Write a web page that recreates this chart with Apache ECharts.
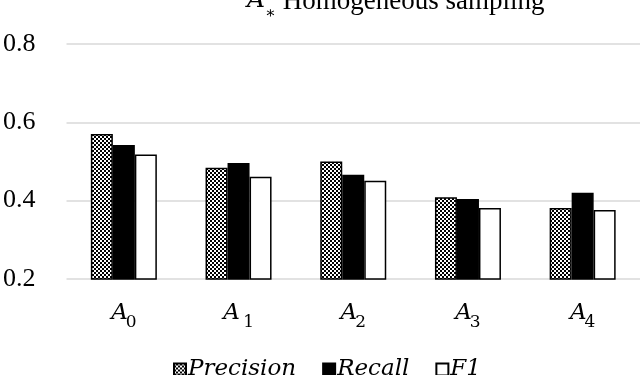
<!DOCTYPE html>
<html>
<head>
<meta charset="utf-8">
<script src="https://cdn.jsdelivr.net/npm/echarts@6/dist/echarts.min.js"></script>
<style>
html,body{margin:0;padding:0;background:#fff;}
#c{width:640px;height:375px;}
</style>
</head>
<body>
<div id="c"></div>
<script>
// Data
var categories = ['A0', 'A 1', 'A2', 'A3', 'A4'];
var seriesNames = ['Precision', 'Recall', 'F1'];
var precision = [0.570, 0.484, 0.500, 0.409, 0.381];
var recall = [0.542, 0.496, 0.466, 0.404, 0.420];
var f1 = [0.518, 0.461, 0.451, 0.381, 0.376];
var yMin = 0.2, yMax = 0.8, yStep = 0.2;

// checkerboard pattern
var pc = document.createElement('canvas');
pc.width = 4; pc.height = 4;
var pctx = pc.getContext('2d');
pctx.fillStyle = '#000'; pctx.fillRect(0, 0, 4, 4);
pctx.fillStyle = '#fff'; pctx.fillRect(0, 0, 2, 2); pctx.fillRect(2, 2, 2, 2);
var checker = { image: pc, repeat: 'repeat' };

var mathFont = '"DejaVu Serif", serif';
var textFont = '"Liberation Serif", "Times New Roman", serif';

var chart = echarts.init(document.getElementById('c'), null, { renderer: 'canvas' });
var barStyle = function (color) {
  return { color: color, borderColor: '#000', borderWidth: 1.5 };
};
chart.setOption({
  animation: false,
  backgroundColor: '#fff',
  title: {
    text: '{a|A}{s|∗}{t| Homogeneous sampling}',
    left: 242,
    top: -17,
    textStyle: {
      fontWeight: 'normal',
      rich: {
        a: { fontFamily: mathFont, fontStyle: 'italic', fontWeight: 'normal', fontSize: 25, lineHeight: 34, verticalAlign: 'top', color: '#000' },
        s: { fontFamily: mathFont, fontWeight: 'normal', fontSize: 16, lineHeight: 16, verticalAlign: 'bottom', color: '#000' },
        t: { fontFamily: textFont, fontWeight: 'normal', fontSize: 27, lineHeight: 34, verticalAlign: 'top', color: '#000' }
      }
    }
  },
  grid: { left: 64.5, right: 0, top: 44, bottom: 96, containLabel: false },
  legend: {
    data: seriesNames,
    left: 168,
    top: 353,
    itemWidth: 12,
    itemHeight: 12,
    itemGap: 26,
    icon: 'rect',
    textStyle: { fontFamily: mathFont, fontStyle: 'italic', fontSize: 23, color: '#000', padding: [0, 0, 0, -3] }
  },
  xAxis: {
    type: 'category',
    data: categories,
    axisLine: { show: false },
    axisTick: { show: false },
    axisLabel: {
      margin: 23,
      formatter: function (v) {
        return '{a|A}{s|' + v.slice(1) + '}';
      },
      rich: {
        a: { fontFamily: mathFont, fontStyle: 'italic', fontSize: 23, lineHeight: 33, verticalAlign: 'top', color: '#000' },
        s: { fontFamily: mathFont, fontSize: 17, lineHeight: 24, verticalAlign: 'bottom', color: '#000', padding: [0, 0, 4, -2] }
      }
    }
  },
  yAxis: {
    type: 'value',
    min: yMin,
    max: yMax,
    interval: yStep,
    axisLine: { show: false },
    axisTick: { show: false },
    splitLine: { lineStyle: { color: '#d9d9d9', width: 1.5 } },
    axisLabel: {
      margin: 31,
      fontFamily: textFont,
      fontSize: 26,
      color: '#000',
      formatter: function (v) { return v.toFixed(1); }
    }
  },
  series: [
    { name: seriesNames[0], type: 'bar', data: precision, barWidth: 22, barGap: '0%', itemStyle: barStyle(checker) },
    { name: seriesNames[1], type: 'bar', data: recall, barWidth: 22, barGap: '0%', itemStyle: barStyle('#000') },
    { name: seriesNames[2], type: 'bar', data: f1, barWidth: 22, barGap: '0%', itemStyle: barStyle('#fff') }
  ]
});
</script>
</body>
</html>
